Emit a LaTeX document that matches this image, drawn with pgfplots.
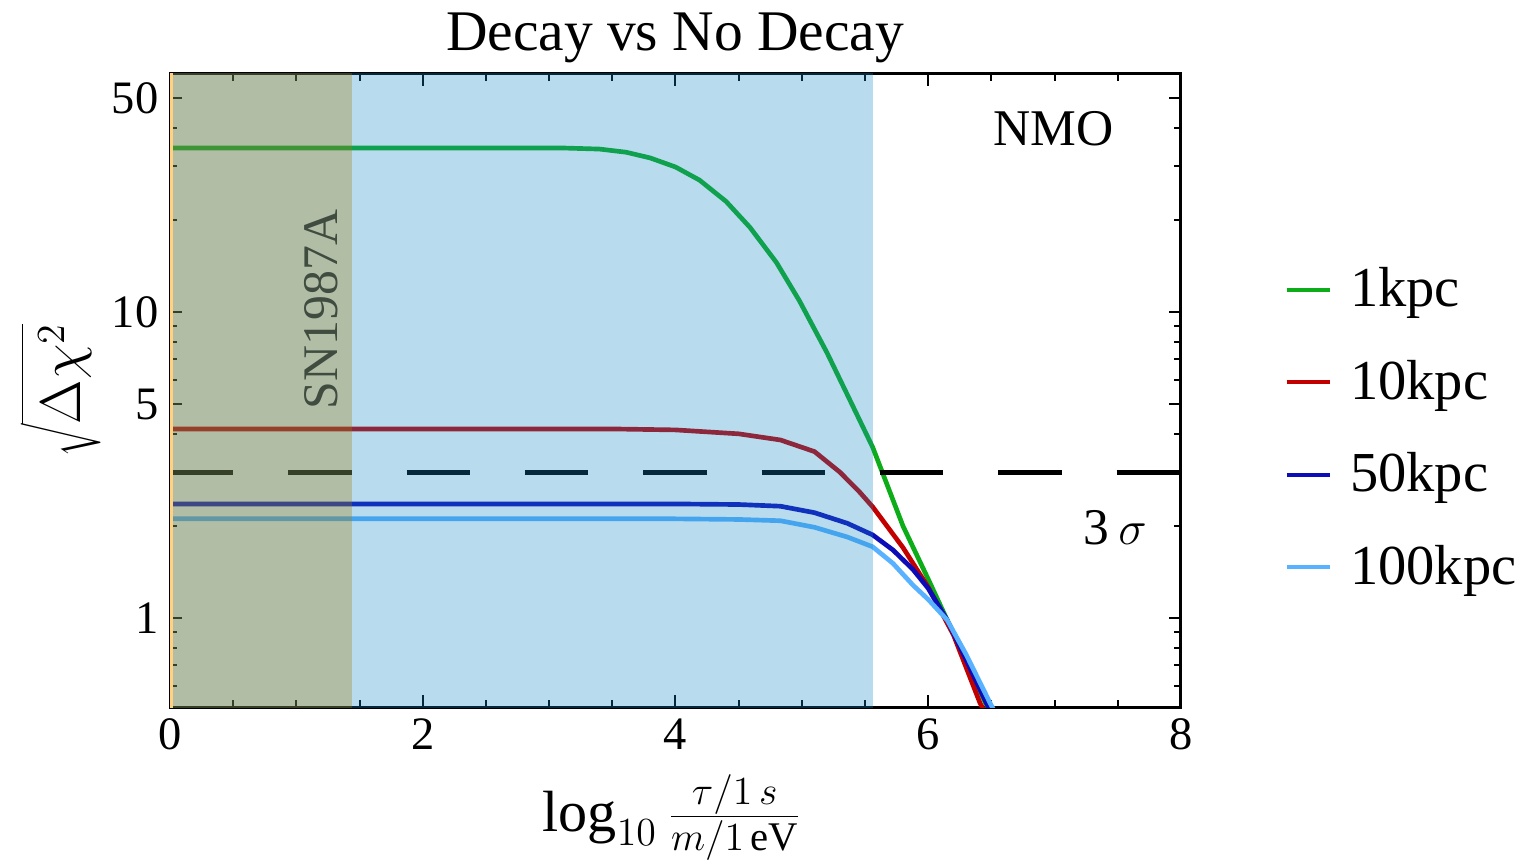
\documentclass[border=0pt]{standalone}
\usepackage{fontspec}
\setmainfont{Liberation Serif}
\usepackage{pgfplots}
\pgfplotsset{compat=1.18}
\definecolor{cgreen}{rgb}{0.05,0.68,0.1}
\definecolor{cred}{rgb}{0.76,0,0}
\definecolor{cdblue}{rgb}{0.05,0.05,0.72}
\definecolor{clblue}{rgb}{0.35,0.7,1.0}
\definecolor{regblue}{rgb}{0.08,0.53,0.78}
\definecolor{regolive}{rgb}{0.66,0.48,0}
\definecolor{regyellow}{rgb}{1,0.82,0.5}
\definecolor{sntext}{rgb}{0.25,0.3,0.25}
\begin{document}
\begin{tikzpicture}
\path[use as bounding box] (0,0) rectangle (459.9bp,258bp);
\begin{axis}[
  at={(51bp,45.9bp)}, anchor=south west,
  scale only axis, width=303.3bp, height=189.9bp,
  xmin=0, xmax=8, ymode=log, ymin=0.512, ymax=60,
  xtick={0,2,4,6,8}, minor x tick num=3,
  ytick={1,5,10,50}, yticklabels={1,5,10,50},
  minor ytick={0.6,0.7,0.8,0.9,2,3,4,6,7,8,9,20,30,40},
  xtick pos=both, ytick pos=both, tick align=inside,
  major tick length=3.5bp, minor tick length=2bp,
  axis line style={line width=0.9bp},
  every tick/.style={black, line width=0.6bp},
  tick label style={font=\fontsize{14}{15}\selectfont},
  /pgf/number format/assume math mode=true,
  title={Decay vs No Decay},
  title style={at={(axis description cs:0.4995,1.026)}, anchor=center, font=\fontsize{17.3}{18}\selectfont},
  xlabel={$\log_{10}\frac{\tau/1\,s}{m/1\,\mathrm{eV}}$},
  xlabel style={at={(axis description cs:0.497,-0.175)}, anchor=center, font=\fontsize{17.5}{18}\selectfont},
  ylabel={$\sqrt{\rule[-2bp]{0pt}{16bp}\Delta\chi^2}$},
  ylabel style={at={(axis description cs:-0.108,0.5)}, anchor=center, inner sep=0pt, font=\fontsize{18}{19}\selectfont},
  legend style={at={(1.092,0.44)}, anchor=west, draw=none, fill=none,
    font=\fontsize{17}{18}\selectfont, row sep=10.5bp,
    nodes={inner xsep=5.5bp}},
  legend cell align=left,
  legend image code/.code={\draw[#1, line width=1.2bp] (0bp,0bp) -- (13bp,0bp);},
]
\addplot[cgreen, line width=1.4bp] coordinates {
(0,34.4) (3.09,34.4) (3.4,34.1) (3.61,33.3) (3.8,31.9) (4.0,29.8) (4.19,27.0) (4.4,23.0) (4.59,18.9) (4.8,14.5) (4.98,10.9) (5.2,7.35) (5.38,5.16) (5.56,3.62) (5.8,2.0) (6.0,1.34) (6.15,0.985) (6.3,0.73) (6.45,0.53) (6.5,0.49)};
\addlegendentry{1kpc}
\addplot[cred, line width=1.4bp] coordinates {
(0,4.15) (3.5,4.15) (4.0,4.12) (4.5,4.0) (4.83,3.82) (5.1,3.5) (5.3,3.0) (5.45,2.6) (5.56,2.31) (5.8,1.7) (6.0,1.26) (6.2,0.88) (6.41,0.527) (6.45,0.49)};
\addlegendentry{10kpc}
\addplot[cdblue, line width=1.4bp] coordinates {
(0,2.36) (4.0,2.36) (4.5,2.35) (4.83,2.32) (5.1,2.21) (5.36,2.04) (5.56,1.87) (5.72,1.67) (5.88,1.44) (6.0,1.25) (6.15,0.985) (6.3,0.73) (6.46,0.527) (6.5,0.49)};
\addlegendentry{50kpc}
\addplot[clblue, line width=1.4bp] coordinates {
(0,2.11) (4.0,2.11) (4.5,2.10) (4.83,2.08) (5.1,1.98) (5.36,1.84) (5.56,1.71) (5.72,1.51) (5.88,1.28) (6.0,1.15) (6.15,0.985) (6.3,0.76) (6.49,0.527) (6.53,0.49)};
\addlegendentry{100kpc}
\addplot[black, line width=1.5bp, dash pattern=on 19bp off 16.5bp, forget plot] coordinates {(0,3) (8,3)};
\addplot[draw=none, fill=regblue, fill opacity=0.3, forget plot] coordinates {(0,0.4) (5.56,0.4) (5.56,70) (0,70)} -- cycle;
\addplot[draw=none, fill=regolive, fill opacity=0.3, forget plot] coordinates {(0,0.4) (1.44,0.4) (1.44,70) (0,70)} -- cycle;
\addplot[draw=none, fill=regyellow, forget plot] coordinates {(0,0.4) (0.025,0.4) (0.025,70) (0,70)} -- cycle;
\node[rotate=90, text=sntext, font=\fontsize{15}{16}\selectfont] at (axis cs:1.2,10.2) {SN1987A};
\node[font=\fontsize{15.5}{16}\selectfont] at (axis cs:6.99,39.9) {NMO};
\node[font=\fontsize{15.5}{16}\selectfont] at (axis cs:7.48,1.98) {3\,$\sigma$};
\end{axis}
\end{tikzpicture}
\end{document}
